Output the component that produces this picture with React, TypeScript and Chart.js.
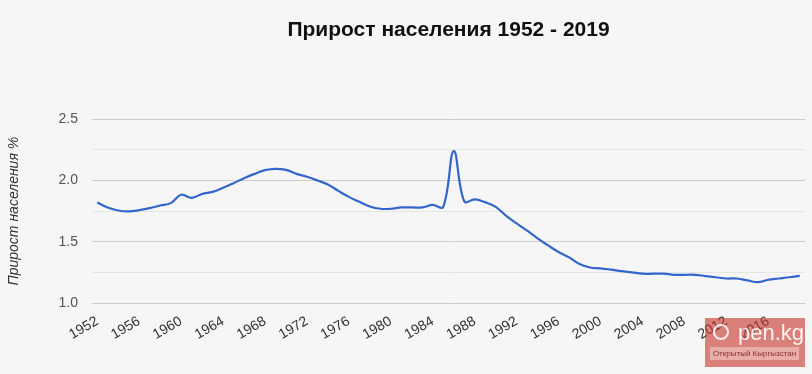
import React, { useEffect, useRef } from "react";
import { Chart, registerables } from "chart.js";

Chart.register(...registerables);

const years: string[] = [];
for (let y = 1952; y <= 2019; y++) years.push(String(y));

const growth: number[] = [
  1.82, 1.78, 1.755, 1.747, 1.758, 1.774, 1.796, 1.815, 1.883, 1.858,
  1.89, 1.907, 1.94, 1.978, 2.019, 2.054, 2.084, 2.095, 2.087, 2.054,
  2.03, 2.0, 1.967, 1.915, 1.866, 1.826, 1.788, 1.769, 1.769, 1.78,
  1.78, 1.78, 1.8, 1.785, 2.24, 1.83, 1.845, 1.823, 1.785, 1.711,
  1.65, 1.59, 1.527, 1.47, 1.416, 1.372, 1.318, 1.29, 1.283, 1.272,
  1.26, 1.25, 1.239, 1.239, 1.24, 1.23, 1.23, 1.23, 1.22, 1.21,
  1.2, 1.2, 1.185, 1.17, 1.19, 1.2, 1.21, 1.222,
];

const yTicks: number[] = [1.0, 1.5, 2.0, 2.5];
const titleText = "Прирост населения 1952 - 2019";
const yAxisTitle = "Прирост населения %";

const FONT = 'Arial, "Liberation Sans", sans-serif';

export default function App() {
  const ref = useRef<HTMLCanvasElement | null>(null);

  useEffect(() => {
    if (!ref.current) return;
    const chart = new Chart(ref.current, {
      type: "line",
      data: {
        labels: years,
        datasets: [
          {
            data: growth,
            borderColor: "#3366cc",
            borderWidth: 2.2,
            pointRadius: 0,
            tension: 0.4,
            fill: false,
          },
        ],
      },
      options: {
        animation: false,
        responsive: true,
        maintainAspectRatio: false,
        layout: { padding: { left: 0, right: 7, top: 0, bottom: 0 } },
        plugins: {
          legend: { display: false },
          tooltip: { enabled: false },
          title: {
            display: true,
            text: titleText,
            fullSize: false,
            color: "#111",
            font: { family: FONT, size: 21, weight: "bold" },
            padding: { top: 18, bottom: 76 },
          },
        },
        scales: {
          x: {
            type: "category",
            offset: true,
            grid: { display: false, drawTicks: false },
            border: { display: false },
            afterFit: (s: any) => {
              s.height = 71;
              s.paddingLeft = 0;
              s.paddingRight = 0;
            },
            ticks: {
              autoSkip: false,
              minRotation: 30,
              maxRotation: 30,
              padding: 10,
              color: "#333",
              font: { family: FONT, size: 14 },
              callback: (_v: any, i: number) => (i % 4 === 0 ? years[i] : ""),
            },
          },
          y: {
            min: 1.0,
            max: 2.5,
            afterFit: (s: any) => {
              s.width = 92;
            },
            afterBuildTicks: (s: any) => {
              const t: any[] = [];
              for (let v = 1.0; v <= 2.5001; v += 0.25) t.push({ value: Math.round(v * 100) / 100 });
              s.ticks = t;
            },
            grid: {
              drawTicks: false,
              color: (c: any) =>
                yTicks.some((t) => Math.abs(t - c.tick.value) < 1e-6) ? "#cccccc" : "#e4e4e4",
              lineWidth: 1,
            },
            border: { display: false },
            ticks: {
              padding: 14,
              color: "#555",
              font: { family: FONT, size: 14 },
              callback: (v: any) =>
                yTicks.some((t) => Math.abs(t - Number(v)) < 1e-6) ? Number(v).toFixed(1) : "",
            },
            title: {
              display: true,
              text: yAxisTitle,
              color: "#333",
              font: { family: FONT, size: 14, style: "italic" },
              padding: { top: 6, bottom: 0 },
            },
          },
        },
      },
    });
    return () => chart.destroy();
  }, []);

  return (
    <div
      style={{
        position: "fixed",
        left: 0,
        top: 0,
        width: 812,
        height: 374,
        background: "#f6f6f6",
        overflow: "hidden",
      }}
    >
      <canvas ref={ref} />
      <div
        style={{
          position: "absolute",
          left: 705,
          top: 318,
          width: 100,
          height: 49,
          background: "rgba(200,50,40,0.6)",
          fontFamily: FONT,
        }}
      >
        <div
          style={{
            position: "absolute",
            left: 8,
            top: 6,
            width: 16,
            height: 16,
            borderRadius: 8,
            border: "2px solid rgba(255,255,255,0.85)",
            boxSizing: "border-box",
          }}
        />
        <div
          style={{
            position: "absolute",
            left: 33,
            top: 3,
            color: "rgba(255,255,255,0.9)",
            fontSize: 22,
            lineHeight: "24px",
          }}
        >
          pen.kg
        </div>
        <div
          style={{
            position: "absolute",
            left: 5,
            top: 29,
            width: 89,
            height: 13,
            background: "rgba(255,255,255,0.35)",
            color: "rgba(120,20,20,0.85)",
            fontSize: 8,
            lineHeight: "13px",
            textAlign: "center",
            whiteSpace: "nowrap",
          }}
        >
          Открытый Кыргызстан
        </div>
      </div>
    </div>
  );
}
